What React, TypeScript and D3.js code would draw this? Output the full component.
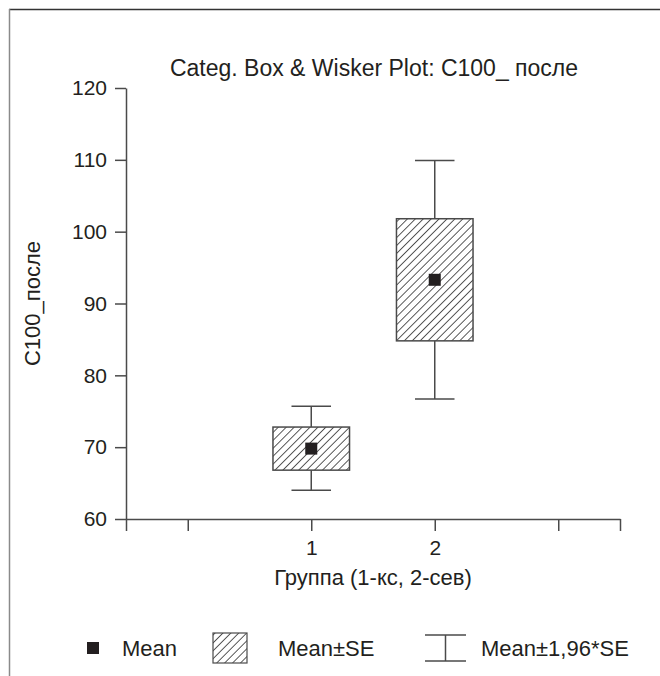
import React, { useEffect, useRef } from "react";
import * as d3 from "d3";

// values
const groups = [1, 2];
const means = [69.8, 93.3];
const seLow = [66.8, 84.8];
const seHigh = [72.8, 101.8];
const ciLow = [64.0, 76.7];
const ciHigh = [75.7, 109.9];

const yTicks = [60, 70, 80, 90, 100, 110, 120];
const xTicks = [-0.5, 0, 1, 2, 3, 3.5];
const legendLabels = ["Mean", "Mean±SE", "Mean±1,96*SE"];

const App = () => {
  const svgRef = useRef<SVGSVGElement>(null);

  useEffect(() => {
    const width = 660;
    const height = 676;
    const font = "'Liberation Sans', Arial, sans-serif";
    const ink = "#231f20";
    const axisCol = "#4a4a4a";

    const svg = d3.select(svgRef.current);
    svg.selectAll("*").remove();
    svg.attr("width", width).attr("height", height);

    // hatch pattern for the SE box
    const defs = svg.append("defs");
    defs.append("pattern")
      .attr("id", "hatch")
      .attr("patternUnits", "userSpaceOnUse")
      .attr("width", 5.6)
      .attr("height", 5.6)
      .attr("patternTransform", "rotate(45)")
      .append("line")
      .attr("x1", 0).attr("y1", 0)
      .attr("x2", 0).attr("y2", 5.6)
      .attr("stroke", "#000")
      .attr("stroke-width", 1.3);

    // frame around the figure
    svg.append("line")
      .attr("x1", 9).attr("y1", 9.5).attr("x2", width).attr("y2", 9.5)
      .attr("stroke", "#333").attr("stroke-width", 1.3);
    svg.append("line")
      .attr("x1", 9.5).attr("y1", 9).attr("x2", 9.5).attr("y2", height)
      .attr("stroke", "#8a8a8a").attr("stroke-width", 1.5);

    const x = d3.scaleLinear().domain([-0.5, 3.5]).range([126, 620]);
    const y = d3.scaleLinear().domain([60, 120]).range([519, 88]);

    // axes
    const yAxis = d3.axisLeft(y).tickValues(yTicks).tickSize(11).tickSizeOuter(0).tickPadding(8);
    const xAxis = d3.axisBottom(x).tickValues(xTicks).tickSize(12).tickSizeOuter(0).tickPadding(9)
      .tickFormat(d => (groups.includes(+d) ? String(d) : ""));

    const gy = svg.append("g").attr("transform", `translate(${x(-0.5)},0)`).call(yAxis);
    const gx = svg.append("g").attr("transform", `translate(0,${y(60)})`).call(xAxis);
    [gx, gy].forEach(g => {
      g.selectAll("path, line").attr("stroke", axisCol).attr("stroke-width", 1.5);
      g.selectAll("text").attr("font-family", font).attr("font-size", 21).attr("fill", ink);
    });

    const boxW = x(0.31) - x(0);
    const capW = x(0.16) - x(0);

    const plot = svg.append("g");
    groups.forEach((g, i) => {
      const cx = x(g);
      // whisker
      plot.append("line")
        .attr("x1", cx).attr("x2", cx).attr("y1", y(ciLow[i])).attr("y2", y(ciHigh[i]))
        .attr("stroke", axisCol).attr("stroke-width", 1.5);
      [ciLow[i], ciHigh[i]].forEach(v => {
        plot.append("line")
          .attr("x1", cx - capW).attr("x2", cx + capW).attr("y1", y(v)).attr("y2", y(v))
          .attr("stroke", axisCol).attr("stroke-width", 1.5);
      });
      // SE box
      plot.append("rect")
        .attr("x", cx - boxW).attr("width", boxW * 2)
        .attr("y", y(seHigh[i])).attr("height", y(seLow[i]) - y(seHigh[i]))
        .attr("fill", "white").attr("stroke", "none");
      plot.append("rect")
        .attr("x", cx - boxW).attr("width", boxW * 2)
        .attr("y", y(seHigh[i])).attr("height", y(seLow[i]) - y(seHigh[i]))
        .attr("fill", "url(#hatch)").attr("stroke", axisCol).attr("stroke-width", 1.5);
      // mean marker
      plot.append("rect")
        .attr("x", cx - 6).attr("y", y(means[i]) - 6).attr("width", 12).attr("height", 12)
        .attr("fill", ink);
    });

    // titles
    svg.append("text")
      .attr("x", 374).attr("y", 76).attr("text-anchor", "middle")
      .attr("font-family", font).attr("font-size", 23).attr("fill", ink)
      .text("Categ. Box & Wisker Plot: C100_ после");
    svg.append("text")
      .attr("x", (x(-0.5) + x(3.5)) / 2).attr("y", 585).attr("text-anchor", "middle")
      .attr("font-family", font).attr("font-size", 22).attr("fill", ink)
      .text("Группа (1-кс, 2-сев)");
    svg.append("text")
      .attr("transform", `translate(40,${(y(60) + y(120)) / 2}) rotate(-90)`)
      .attr("text-anchor", "middle")
      .attr("font-family", font).attr("font-size", 22).attr("fill", ink)
      .text("C100_после");

    // legend
    const ly = 648;
    const leg = svg.append("g");
    leg.append("rect").attr("x", 87).attr("y", ly - 6).attr("width", 12).attr("height", 12).attr("fill", ink);
    leg.append("rect").attr("x", 213).attr("y", ly - 15).attr("width", 34).attr("height", 30)
      .attr("fill", "url(#hatch)").attr("stroke", axisCol).attr("stroke-width", 1.2);
    leg.append("line").attr("x1", 425).attr("x2", 466).attr("y1", ly - 13).attr("y2", ly - 13)
      .attr("stroke", axisCol).attr("stroke-width", 1.5);
    leg.append("line").attr("x1", 425).attr("x2", 466).attr("y1", ly + 13).attr("y2", ly + 13)
      .attr("stroke", axisCol).attr("stroke-width", 1.5);
    leg.append("line").attr("x1", 445.5).attr("x2", 445.5).attr("y1", ly - 13).attr("y2", ly + 13)
      .attr("stroke", axisCol).attr("stroke-width", 1.5);
    const textX = [122, 278, 481];
    legendLabels.forEach((t, i) => {
      leg.append("text").attr("x", textX[i]).attr("y", ly + 8)
        .attr("font-family", font).attr("font-size", 22).attr("fill", ink).text(t);
    });
  }, []);

  return (
    <svg ref={svgRef} style={{ position: "absolute", left: 0, top: 0, background: "white" }}></svg>
  );
};

export default App;
